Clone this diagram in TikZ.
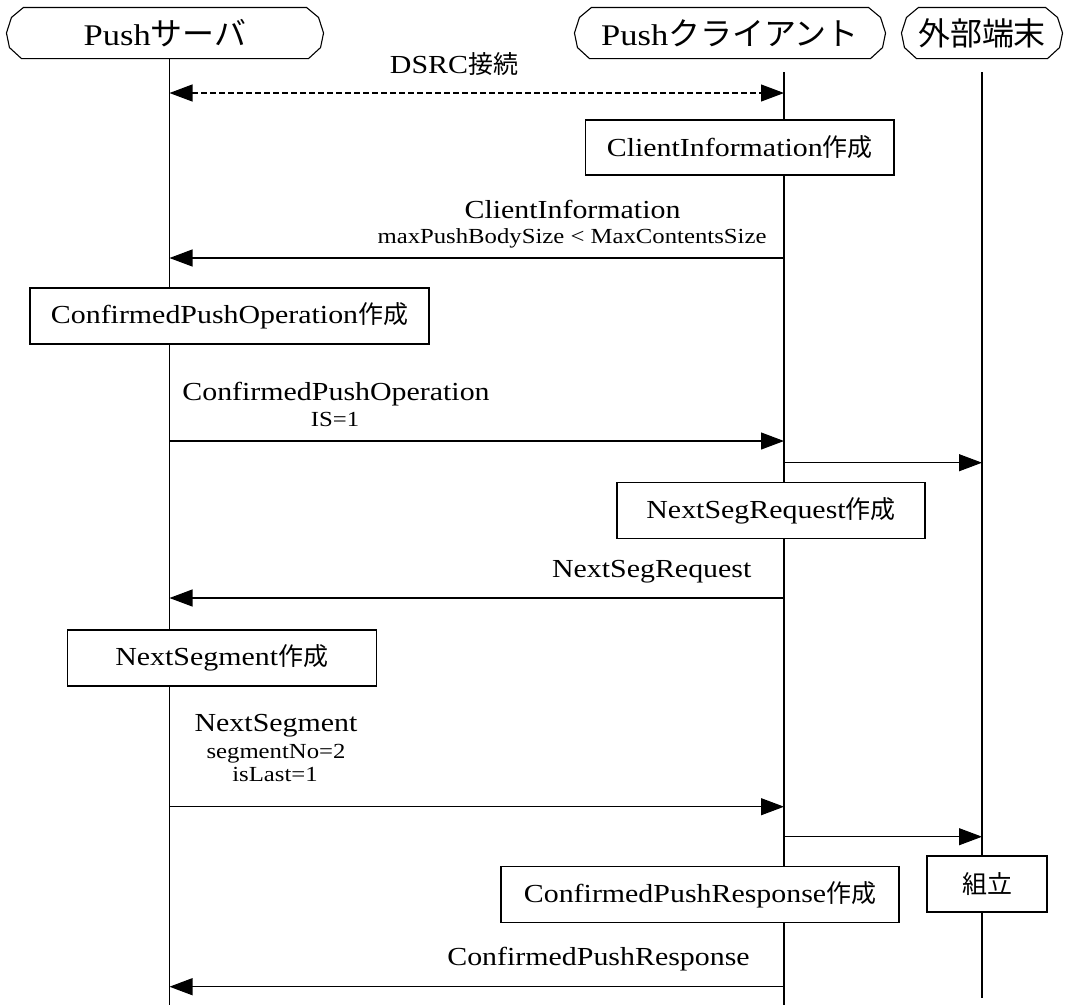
\documentclass[tikz,border=0pt]{standalone}
\usepackage{fontspec}
\setmainfont{Liberation Serif}[FakeStretch=1.15]
\newfontfamily\jpfont{Noto Sans CJK JP}[Scale=0.96]
\newcommand{\J}[1]{{\jpfont #1}}
\newcommand{\JH}[1]{{\fontsize{33.3}{36}\selectfont\jpfont #1}}
\usetikzlibrary{arrows.meta,calc}
\newcommand{\hdroutline}[1]{\draw ($(#1.north west)+(17,0)$) -- ($(#1.north west)+(5,10)$) -- (#1.west) -- ($(#1.south west)+(3,-11)$) -- ($(#1.south west)+(15,0)$) -- ($(#1.south east)+(-15,0)$) -- ($(#1.south east)+(-3,-11)$) -- (#1.east) -- ($(#1.north east)+(-5,10)$) -- ($(#1.north east)+(-17,0)$) -- cycle;}
\begin{document}
\begin{tikzpicture}[x=1pt,y=-1pt,line width=1.1pt,
  >={Triangle[length=23pt,width=17pt]},
  hdr/.style={minimum height=50pt,inner sep=0pt,font=\fontsize{30}{34}\selectfont},
  act/.style={draw,fill=white,minimum height=56pt,inner sep=0pt,font=\fontsize{26}{30}\selectfont},
  lbl/.style={anchor=base,inner sep=0pt,font=\fontsize{26}{30}\selectfont},
  sublbl/.style={anchor=base,inner sep=0pt,font=\fontsize{21.5}{24}\selectfont},
  msg/.style={->},
  dmsg/.style={<->,dash pattern=on 6pt off 3pt}]
\useasboundingbox (0,0) rectangle (1067,1005);
% headers
\node[hdr,minimum width=316pt] (srv) at (165,33) {Push\JH{サーバ}};
\node[hdr,minimum width=310pt] (cli) at (730,33) {Push\JH{クライアント}};
\node[hdr,minimum width=160pt] (ext) at (982,33) {\JH{外部端末}};
\hdroutline{srv}
\hdroutline{cli}
\hdroutline{ext}
% lifelines
\coordinate (sT) at (169.5,58);  \coordinate (sB) at (169.5,1005);
\coordinate (cT) at (784,72);    \coordinate (cB) at (784,1005);
\coordinate (eT) at (982,72);    \coordinate (eB) at (982,998);
\draw (sT) -- (sB);
\draw (cT) -- (cB);
\draw (eT) -- (eB);
% message endpoints
\coordinate (d0s) at (169.5,93);   \coordinate (d0c) at (784,93);
\coordinate (m1c) at (784,258);    \coordinate (m1s) at (169.5,258);
\coordinate (m2s) at (169.5,441);  \coordinate (m2c) at (784,441);
\coordinate (m3c) at (784,462.7);  \coordinate (m3e) at (982,462.7);
\coordinate (m4c) at (784,598);    \coordinate (m4s) at (169.5,598);
\coordinate (m5s) at (169.5,806.7);\coordinate (m5c) at (784,806.7);
\coordinate (m6c) at (784,836.7);  \coordinate (m6e) at (982,836.7);
\coordinate (m7c) at (784,986.7);  \coordinate (m7s) at (169.5,986.7);
\draw[dmsg] (d0s) -- (d0c);
\draw[msg] (m1c) -- (m1s);
\draw[msg] (m2s) -- (m2c);
\draw[msg] (m3c) -- (m3e);
\draw[msg] (m4c) -- (m4s);
\draw[msg] (m5s) -- (m5c);
\draw[msg] (m6c) -- (m6e);
\draw[msg] (m7c) -- (m7s);
% action boxes
\node[act,minimum width=308.5pt,minimum height=55pt] (b1) at (739.75,147.5) {ClientInformation\J{作成}};
\node[act,minimum width=399pt] (b2) at (229.5,316) {ConfirmedPushOperation\J{作成}};
\node[act,minimum width=308pt,minimum height=55.3pt] (b3) at (771,510.4) {NextSegRequest\J{作成}};
\node[act,minimum width=308.7pt] (b4) at (221.7,658) {NextSegment\J{作成}};
\node[act,minimum width=120pt] (b5) at (987,884) {\J{組立}};
\node[act,minimum width=398pt,minimum height=56.7pt] (b6) at (700,894.4) {ConfirmedPushResponse\J{作成}};
% labels
\node[lbl] (l0) at (454,73) {DSRC\J{接続}};
\node[lbl] (l1) at (572.5,218) {ClientInformation};
\node[sublbl] (l1s) at (572,243) {maxPushBodySize < MaxContentsSize};
\node[lbl] (l2) at (336,400.5) {ConfirmedPushOperation};
\node[sublbl] (l2s) at (335,426.5) {IS=1};
\node[lbl] (l3) at (651.7,577) {NextSegRequest};
\node[lbl] (l4) at (276,731.5) {NextSegment};
\node[sublbl] (l4s) at (276,758) {segmentNo=2};
\node[sublbl] (l4t) at (275,781.5) {isLast=1};
\node[lbl] (l5) at (598.5,965) {ConfirmedPushResponse};
\end{tikzpicture}
\end{document}
